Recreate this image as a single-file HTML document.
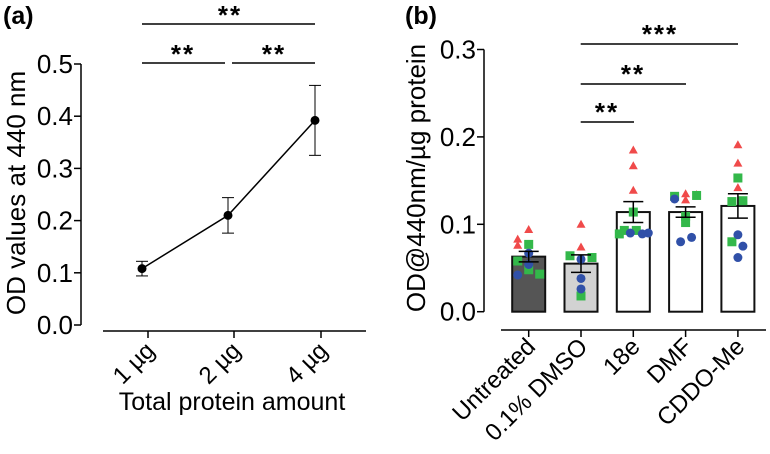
<!DOCTYPE html>
<html><head><meta charset="utf-8"><style>
html,body{margin:0;padding:0;background:#fff;}
svg{display:block;font-family:"Liberation Sans",sans-serif;}
</style></head><body>
<svg id="fig" width="770" height="454" viewBox="0 0 770 454"></svg>
<script>
// ---- Panel (a) data ----
const aCategories = ["1 µg","2 µg","4 µg"];
const aMeans = [0.108, 0.210, 0.392];
const aErrLow = [0.094, 0.176, 0.325];
const aErrHigh = [0.122, 0.244, 0.459];
const aTicks = [0.0,0.1,0.2,0.3,0.4,0.5];
const aTickLabels = ["0.0","0.1","0.2","0.3","0.4","0.5"];

// ---- Panel (b) data ----
const bCategories = ["Untreated","0.1% DMSO","18e","DMF","CDDO-Me"];
const bMeans = [0.063, 0.055, 0.114, 0.114, 0.121];
const bSem = [0.006, 0.010, 0.012, 0.006, 0.014];
const bTicks = [0.0,0.1,0.2,0.3];
const bTickLabels = ["0.0","0.1","0.2","0.3"];
const bTriangles = [[0.083,0.076,0.094],[0.100,0.074],[0.185,0.167,0.139],[0.135,0.134,0.128],[0.191,0.170,0.142]];
const bSquares = [[0.058,0.077,0.048,0.043],[0.064,0.062,0.018],[0.114,0.089,0.093,0.093],[0.132,0.133,0.109,0.102],[0.153,0.126,0.127,0.080]];
const bCircles = [[0.042,0.067,0.054],[0.060,0.038,0.026],[0.090,0.089,0.090],[0.129,0.085,0.080],[0.088,0.075,0.062]];

// layout jitter (px offsets, not data)
const jT = [[-11,-11,0],[0,0],[0,0,0],[0,11,0],[0,0,0]];
const jS = [[-11,0,0,11],[-11,11,0],[0,-14,-9,3],[-11,11,0,0],[0,-6,5,-6]];
const jC = [[-11,0,0],[0,0,0],[-3,9,15],[-11,6,-5],[0,5,0]];

const NS="http://www.w3.org/2000/svg";
const svg=document.getElementById('fig');
function el(tag,attrs,parent){const e=document.createElementNS(NS,tag);for(const k in attrs)e.setAttribute(k,attrs[k]);(parent||svg).appendChild(e);return e;}
function txt(s,attrs,parent){const e=el('text',attrs,parent);e.textContent=s;return e;}

// ===== Panel a =====
const ga=el('g',{});


const aY=v=>325-v*522;
const aX=i=>[142,228,315][i];
let t=txt("(a)",{x:3,y:24,'font-size':25,'font-weight':'bold'},ga);

let l=el('line',{x1:81,y1:aY(0.5),x2:81,y2:aY(0),stroke:'#000','stroke-width':1.5},ga);

aTicks.forEach((v,i)=>{
  el('line',{x1:74,y1:aY(v),x2:81,y2:aY(v),stroke:'#000','stroke-width':1.5},ga);
  const tt=txt(aTickLabels[i],{x:73,y:aY(v)+9,'font-size':26,'text-anchor':'end'},ga);
  
});
l=el('line',{x1:103,y1:331,x2:366,y2:331,stroke:'#000','stroke-width':1.5},ga);

aCategories.forEach((c,i)=>{
  el('line',{x1:aX(i)+6,y1:331,x2:aX(i)+6,y2:338,stroke:'#000','stroke-width':1.5},ga);
  const tt=txt(c,{x:0,y:0,'font-size':24,'text-anchor':'end',transform:`translate(${aX(i)+14},${352}) rotate(-45)`},ga);
  
});
t=txt("Total protein amount",{x:232,y:410,'font-size':25,'text-anchor':'middle'},ga);

t=txt("OD values at 440 nm",{x:0,y:0,'font-size':26,'text-anchor':'middle',transform:'translate(25,193) rotate(-90)'},ga);

const pts=aMeans.map((v,i)=>aX(i)+','+aY(v)).join(' ');
l=el('polyline',{points:pts,fill:'none',stroke:'#000','stroke-width':1.5},ga);

aMeans.forEach((v,i)=>{
  const x=aX(i);
  el('line',{x1:x,y1:aY(aErrHigh[i]),x2:x,y2:aY(aErrLow[i]),stroke:'#000','stroke-width':1},ga);
  el('line',{x1:x-6,y1:aY(aErrHigh[i]),x2:x+6,y2:aY(aErrHigh[i]),stroke:'#000','stroke-width':1},ga);
  el('line',{x1:x-6,y1:aY(aErrLow[i]),x2:x+6,y2:aY(aErrLow[i]),stroke:'#000','stroke-width':1},ga);
  const c=el('circle',{cx:x,cy:aY(v),r:4.5,fill:'#000'},ga);
  
});
[[142,315,24,230,12],[142,225,63,183,51],[232,315,63,274,51]].forEach(s=>{
  const g=el('g',{},ga);
  
  el('line',{x1:s[0],y1:s[2],x2:s[1],y2:s[2],stroke:'#000','stroke-width':1.5},g);
  txt("**",{x:s[3],y:s[4]+12,'font-size':26,'font-weight':'bold','text-anchor':'middle','letter-spacing':'2'},g);
});

// ===== Panel b =====
const gb=el('g',{});


const bY=v=>311.7-v*874;
const bX=i=>528.7+i*52.3;
t=txt("(b)",{x:405,y:24,'font-size':25,'font-weight':'bold'},gb);

l=el('line',{x1:484,y1:bY(0.3),x2:484,y2:bY(0),stroke:'#000','stroke-width':1.5},gb);

bTicks.forEach((v,i)=>{
  el('line',{x1:477,y1:bY(v),x2:484,y2:bY(v),stroke:'#000','stroke-width':1.5},gb);
  const tt=txt(bTickLabels[i],{x:476,y:bY(v)+9,'font-size':26,'text-anchor':'end'},gb);
  
});
t=txt("OD@440nm/µg protein",{x:0,y:0,'font-size':26,'text-anchor':'middle',transform:'translate(425,178) rotate(-90)'},gb);

l=el('line',{x1:501,y1:330,x2:766,y2:330,stroke:'#000','stroke-width':1.5},gb);

const fills=['#555555','#d2d2d2','#ffffff','#ffffff','#ffffff'];
bCategories.forEach((c,i)=>{
  const x=bX(i);
  el('line',{x1:x,y1:330,x2:x,y2:337,stroke:'#000','stroke-width':1.5},gb);
  const tt=txt(c,{x:0,y:0,'font-size':24,'text-anchor':'end',transform:`translate(${x+8},${348}) rotate(-45)`},gb);
  
  const r=el('rect',{x:x-16.5,y:bY(bMeans[i]),width:33,height:bY(0)-bY(bMeans[i]),fill:fills[i],stroke:'#111','stroke-width':2},gb);
  
  
});
bCategories.forEach((c,i)=>{
  const x=bX(i);
  bTriangles[i].forEach((v,k)=>{
    const cx=x+jT[i][k],cy=bY(v);
    const p=el('polygon',{points:`${cx},${cy-4.5} ${cx-4.5},${cy+3.5} ${cx+4.5},${cy+3.5}`,fill:'#f04a4a'},gb);
    
  });
  bSquares[i].forEach((v,k)=>{
    const p=el('rect',{x:x+jS[i][k]-4.5,y:bY(v)-4.5,width:9,height:9,fill:'#33b84a'},gb);
    
  });
  bCircles[i].forEach((v,k)=>{
    const p=el('circle',{cx:x+jC[i][k],cy:bY(v),r:4.5,fill:'#3050a8'},gb);
    
  });
  const g=el('g',{},gb);
  
  const hi=bY(bMeans[i]+bSem[i]),lo=bY(bMeans[i]-bSem[i]);
  el('line',{x1:x,y1:hi,x2:x,y2:lo,stroke:'#000','stroke-width':1.5},g);
  el('line',{x1:x-10,y1:hi,x2:x+10,y2:hi,stroke:'#000','stroke-width':1.5},g);
  el('line',{x1:x-10,y1:lo,x2:x+10,y2:lo,stroke:'#000','stroke-width':1.5},g);
});
[[580.7,738,44,660,"***"],[580.7,686,84,633,"**"],[580.7,634,122,607,"**"]].forEach(s=>{
  const g=el('g',{},gb);
  
  el('line',{x1:s[0],y1:s[2],x2:s[1],y2:s[2],stroke:'#000','stroke-width':1.5},g);
  txt(s[4],{x:s[3],y:s[2]-1,'font-size':26,'font-weight':'bold','text-anchor':'middle','letter-spacing':'2'},g);
});
</script>
</body></html>
